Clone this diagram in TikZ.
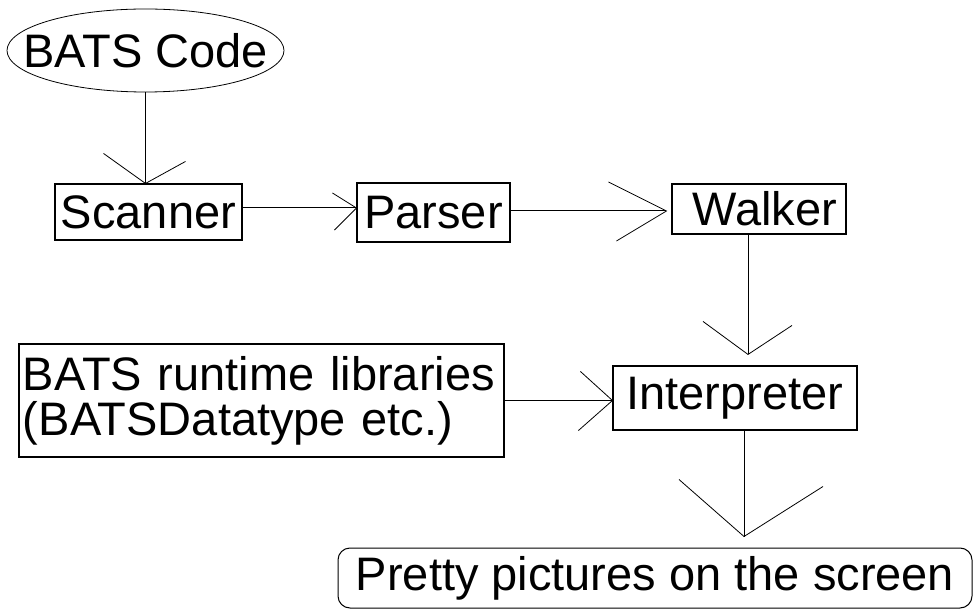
\documentclass[tikz,border=0pt]{standalone}
\usepackage{fontspec}
\setmainfont{Liberation Sans}
\usetikzlibrary{shapes.geometric}
\begin{document}
\begin{tikzpicture}[x=1pt,y=-1pt,
  every node/.style={font=\fontsize{47}{45}\selectfont, inner sep=0pt},
  stagebox/.style={draw, line width=1.1pt, rectangle},
  link/.style={line width=1pt},
  barb/.style={line width=0.8pt}]
  % canvas
  \fill[white] (0,0) rectangle (974,609);
  \useasboundingbox (0,0) rectangle (974,609);

  % nodes
  \node[draw, ellipse, line width=0.8pt, minimum width=277pt, minimum height=83pt] (code) at (145.5,50.5) {\makebox[0pt]{BATS Code}};
  \node[stagebox, minimum width=187pt, minimum height=56pt] (scan) at (148.5,212) {Scanner};
  \node[stagebox, minimum width=153pt, minimum height=59pt] (pars) at (433.5,212.5) {Parser};
  \node[stagebox, minimum width=174pt, minimum height=50pt] (walk) at (759,209) {\kern12pt Walker};
  \node[stagebox, minimum width=485pt, minimum height=113pt, align=left, text width=477pt] (libs) at (261.5,400.5) {BATS runtime libraries\\(BATSDatatype etc.)};
  \node[stagebox, minimum width=244pt, minimum height=64pt] (interp) at (735,398) {Interpreter};
  \node[draw, line width=1pt, rounded corners=12pt, minimum width=634pt, minimum height=60pt] (pretty) at (655,578) {Pretty pictures on the screen};

  % connectors with open barbed heads
  \draw[link] (code.south) -- (code.south |- scan.north) coordinate (t1);
  \draw[barb] (t1) ++(-42,-30) -- (t1) -- ++(40,-22);

  \draw[link] ([yshift=4pt]scan.east) coordinate (s2) -- (s2 -| pars.west) coordinate (t2);
  \draw[barb] (t2) ++(-24,-15) -- (t2) -- ++(-22,22);

  \draw[link] ([yshift=1.5pt]pars.east) coordinate (s3) -- ([xshift=-5pt]s3 -| walk.west) coordinate (t3);
  \draw[barb] (t3) ++(-58,-29) -- (t3) -- ++(-50,30);

  \draw[link] ([xshift=-11pt]walk.south) coordinate (s4) -- ([yshift=11pt]s4 |- interp.north) coordinate (t4);
  \draw[barb] (t4) ++(-45,-33) -- (t4) -- ++(44,-29);

  \draw[link] (libs.east) -- (libs.east -| interp.west) coordinate (t5);
  \draw[barb] (t5) ++(-32,-29) -- (t5) -- ++(-34,30);

  \draw[link] ([xshift=9pt]interp.south) coordinate (s6) -- ([yshift=11pt]s6 |- pretty.north) coordinate (t6);
  \draw[barb] (t6) ++(-65,-57) -- (t6) -- ++(79,-50);
\end{tikzpicture}
\end{document}
